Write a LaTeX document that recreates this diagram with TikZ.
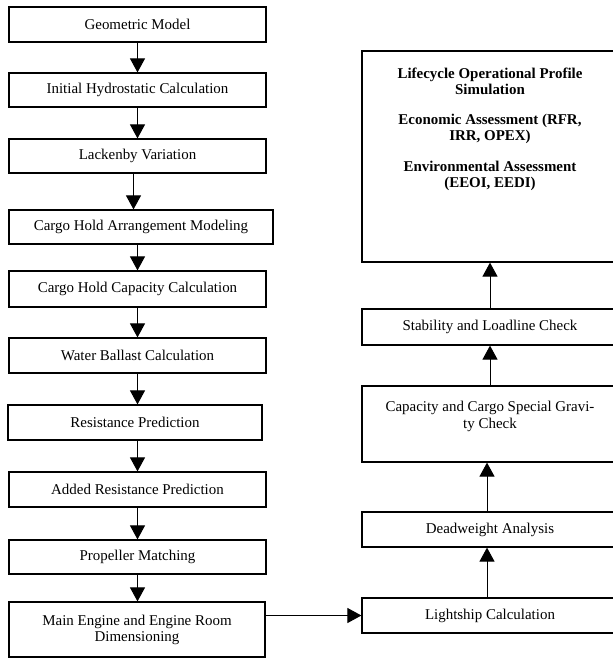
\documentclass[tikz,border=0pt]{standalone}
\usepackage{fontspec}
\setmainfont{Liberation Serif}
\usetikzlibrary{arrows.meta}
\begin{document}
\begin{tikzpicture}[x=1bp,y=-1bp,
  box/.style={draw, line width=1.2bp, inner sep=0pt, align=center,
    font=\fontsize{15}{16}\selectfont, minimum width=257bp},
  txt/.style={inner sep=0pt, align=center, anchor=north, font=\fontsize{15}{16.5}\selectfont},
  arr/.style={line width=1bp, -{Triangle[length=14bp,width=15bp]}}]
\useasboundingbox (0,0) rectangle (613,658);
\clip (0,0) rectangle (613,658);
% left column
\node[box, minimum height=35bp] (geo) at (137.5,24.5) {Geometric Model};
\node[box, minimum height=34bp] (ihc) at (137.5,90) {Initial Hydrostatic Calculation};
\node[box, minimum height=34bp] (lv) at (137.5,156) {Lackenby Variation};
\node[box, minimum height=34bp, minimum width=264bp] (cha) at (141,227) {Cargo Hold Arrangement Modeling};
\node[box, minimum height=36bp] (chc) at (137.5,289) {Cargo Hold Capacity Calculation};
\node[box, minimum height=35bp] (wb) at (137.5,355.5) {Water Ballast Calculation};
\node[box, minimum height=35bp, minimum width=254bp] (rp) at (135,422.5) {Resistance Prediction};
\node[box, minimum height=35bp] (arp) at (137.5,489.5) {Added Resistance Prediction};
\node[box, minimum height=34bp] (pm) at (137.5,557) {Propeller Matching};
\node[box, minimum height=55bp, minimum width=256bp] (me) at (137,629.5) {Main Engine and Engine Room\\Dimensioning};
% right column
\node[box, minimum height=211bp, minimum width=256bp] (sim) at (490,156.5) {};
\node[txt, font=\fontsize{15}{16}\selectfont\bfseries] (simt) at (490,68)
  {Lifecycle Operational Profile\\Simulation\\[14bp]Economic Assessment (RFR,\\IRR, OPEX)\\[15bp]Environmental Assessment\\(EEOI, EEDI)};
\node[box, minimum height=36bp, minimum width=256bp] (sl) at (490,327) {Stability and Loadline Check};
\node[box, minimum height=76bp, minimum width=256bp] (cap) at (490,424) {};
\node[txt] (capt) at (490,401) {Capacity and Cargo Special Gravi-\\ty Check};
\node[box, minimum height=35bp, minimum width=256bp] (dw) at (490,529.5) {Deadweight Analysis};
\node[box, minimum height=35bp, minimum width=256bp] (ls) at (490,615.5) {Lightship Calculation};
% left arrows
\draw[arr] (geo.south) -- (geo.south |- ihc.north);
\draw[arr] (ihc.south) -- (ihc.south |- lv.north);
\draw[arr] ([xshift=-4bp]lv.south) -- ([xshift=-4bp]lv.south |- cha.north);
\draw[arr] (chc.north |- cha.south) -- (chc.north);
\draw[arr] (chc.south) -- (chc.south |- wb.north);
\draw[arr] (wb.south) -- (wb.south |- rp.north);
\draw[arr] (wb.south |- rp.south) -- (arp.north);
\draw[arr] (arp.south) -- (arp.south |- pm.north);
\draw[arr] (pm.south) -- (pm.south |- me.north);
% connector between columns
\draw[arr] (me.east |- ls.west) -- (ls.west);
% right arrows
\draw[arr] ([xshift=-3bp]ls.north) -- ([xshift=-3bp]ls.north |- dw.south);
\draw[arr] ([xshift=-3bp]dw.north) -- ([xshift=-3bp]dw.north |- cap.south);
\draw[arr] (cap.north) -- (cap.north |- sl.south);
\draw[arr] (sl.north) -- (sl.north |- sim.south);
\end{tikzpicture}
\end{document}
